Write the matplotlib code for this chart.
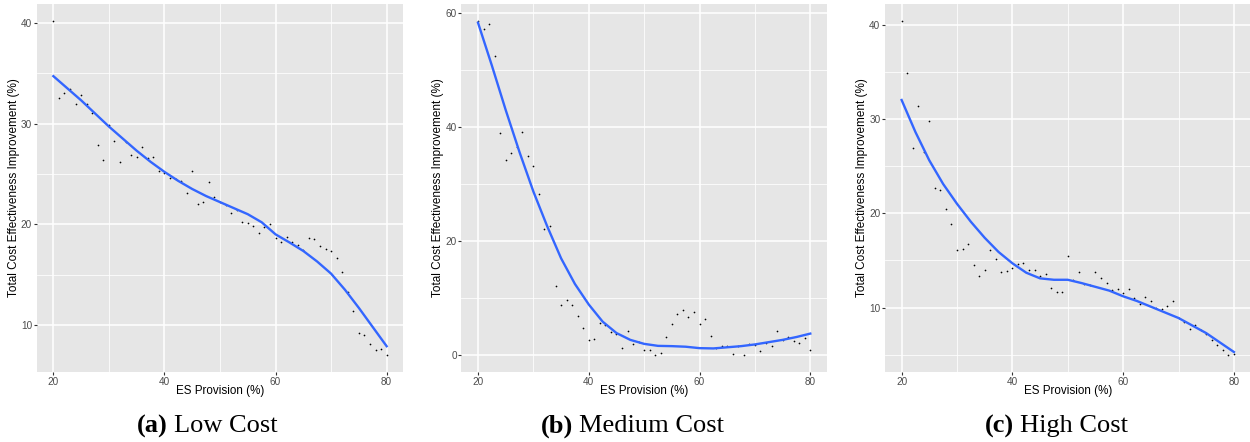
import numpy as np
import matplotlib
matplotlib.use("Agg")
from matplotlib import pyplot as plt
from matplotlib.ticker import MultipleLocator

# ES provision levels (%) of the scenarios
es = list(range(20, 81))

# Total cost effectiveness improvement (%) per scenario
low_cost = [40.2, 32.5, 33.0, 33.4, 31.95, 32.8, 31.95, 31.0, 27.9, 26.4,
            29.9, 28.3, 26.2, 28.2, 26.85, 26.7, 27.65, 26.6, 26.65, 25.3,
            25.1, 24.55, 24.5, 24.25, 23.1, 25.3, 22.0, 22.25, 24.15, 22.7,
            22.2, 21.9, 21.1, 21.4, 20.25, 20.1, 19.85, 19.15, 19.75, 20.0,
            18.65, 18.2, 18.75, 18.2, 17.9, 17.4, 18.65, 18.5, 17.8, 17.5,
            17.3, 16.7, 15.25, 13.3, 11.4, 9.25, 9.05, 8.15, 7.5, 7.65, 7.0]
medium_cost = [58.65, 57.25, 58.1, 52.4, 39.05, 34.15, 35.5, 36.6, 39.2, 35.0,
               33.2, 28.3, 22.2, 22.7, 12.15, 8.85, 9.75, 8.9, 6.9, 4.7,
               2.65, 2.8, 5.7, 5.35, 4.1, 3.7, 1.35, 4.25, 2.0, 2.3,
               0.95, 0.95, 0.0, 0.4, 3.15, 5.4, 7.25, 7.95, 6.75, 7.6,
               5.4, 6.3, 3.3, 1.35, 1.65, 1.65, 0.25, 1.65, 0.0, 2.05,
               1.8, 0.8, 2.1, 1.65, 4.2, 2.7, 3.15, 2.45, 2.2, 3.0, 1.0]
high_cost = [40.4, 34.85, 26.9, 31.4, 26.45, 29.75, 22.65, 22.45, 20.5, 18.9,
             16.15, 16.25, 16.7, 14.5, 13.3, 13.95, 16.15, 15.2, 13.75, 13.85,
             14.2, 14.6, 14.75, 14.0, 14.0, 13.35, 13.6, 12.05, 11.65, 11.7,
             15.45, 12.95, 13.8, 12.5, 12.4, 13.8, 13.15, 12.6, 11.85, 11.95,
             11.5, 12.0, 11.05, 10.4, 11.15, 10.65, 10.0, 9.85, 10.15, 10.65,
             8.85, 8.45, 7.75, 8.15, 7.6, 7.25, 6.55, 6.0, 5.5, 4.95, 5.05]

# smoothed trend (loess) evaluated along ES provision
fit_es = [20, 22.5, 25, 27.5, 30, 32.5, 35, 37.5, 40, 42.5, 45, 47.5, 50,
          52.5, 55, 57.5, 60, 62.5, 65, 67.5, 70, 72.5, 75, 77.5, 80]
low_fit = [34.7, 33.5, 32.3, 31.0, 29.7, 28.5, 27.3, 26.2, 25.2, 24.3, 23.5,
           22.8, 22.2, 21.6, 21.0, 20.2, 19.0, 18.2, 17.35, 16.3, 15.1, 13.5,
           11.7, 9.8, 7.9]
medium_fit = [58.3, 50.8, 43.0, 35.6, 28.7, 22.6, 17.0, 12.5, 8.9, 5.9, 3.9,
              2.7, 2.0, 1.65, 1.6, 1.5, 1.25, 1.2, 1.4, 1.6, 1.9, 2.3, 2.7,
              3.2, 3.8]
high_fit = [32.0, 28.6, 25.6, 23.1, 21.0, 19.1, 17.4, 15.9, 14.7, 13.7, 13.1,
            12.95, 12.95, 12.6, 12.2, 11.8, 11.2, 10.7, 10.1, 9.5, 8.9, 8.1,
            7.3, 6.3, 5.3]

panels = [("(a)", "Low Cost", low_cost, low_fit, 10),
          ("(b)", "Medium Cost", medium_cost, medium_fit, 20),
          ("(c)", "High Cost", high_cost, high_fit, 10)]

W, H = 1250, 442
# panel boxes in pixels: left, width
boxes = [(36.7, 366.6), (461.4, 365.5), (885.0, 365.5)]
ylab_x = [14, 438, 862]
cap_x = [137, 541, 985]
top_px, bottom_px = 4, 372

plt.rcParams['font.family'] = ['Liberation Sans', 'DejaVu Sans']
fig = plt.figure(figsize=(W / 100, H / 100), dpi=100)


def draw_panel(ax, pts, fit, step):
    ax.set_facecolor('#E6E6E6')
    ax.set_axisbelow(True)
    for s in ax.spines.values():
        s.set_visible(False)
    ax.scatter(es, pts, s=1.5, c='black', linewidths=0, zorder=3)
    ax.plot(fit_es, fit, color='#3366FF', lw=1.7, zorder=4,
            solid_joinstyle='round')
    ax.margins(0.05)
    ax.xaxis.set_major_locator(MultipleLocator(20))
    ax.xaxis.set_minor_locator(MultipleLocator(10))
    ax.yaxis.set_major_locator(MultipleLocator(step))
    ax.yaxis.set_minor_locator(MultipleLocator(step / 2))
    ax.grid(which='major', color='white', linewidth=1.1)
    ax.grid(which='minor', color='white', linewidth=0.55)
    ax.tick_params(which='minor', length=0)
    ax.tick_params(which='major', length=2.5, width=0.8, color='#333333',
                   labelsize=7.2, labelcolor='#4D4D4D', pad=0.8)


renderer = fig.canvas.get_renderer()
for (tag, name, pts, fit, step), (left, width), yx, cx in zip(panels, boxes, ylab_x, cap_x):
    ax = fig.add_axes([left / W, 1 - bottom_px / H, width / W, (bottom_px - top_px) / H])
    draw_panel(ax, pts, fit, step)
    mid = (left + width / 2) / W
    fig.text(mid, 1 - 391 / H, "ES Provision (%)", ha='center', va='center', fontsize=8.4)
    fig.text(yx / W, 1 - 188 / H, "Total Cost Effectiveness Improvement (%)",
             rotation=90, ha='center', va='center', fontsize=8.5)
    # sub-caption: bold tag, plain name
    t = fig.text(cx / W, 1 - 426 / H, tag, fontweight='bold', fontsize=19,
                 family='Liberation Serif', ha='left', va='center')
    bb = t.get_window_extent(renderer)
    fig.text((bb.x1 + 6) / W, 1 - 426 / H, name, fontsize=19,
             family='Liberation Serif', ha='left', va='center')

fig.savefig("out.png", dpi=100, facecolor='white')
